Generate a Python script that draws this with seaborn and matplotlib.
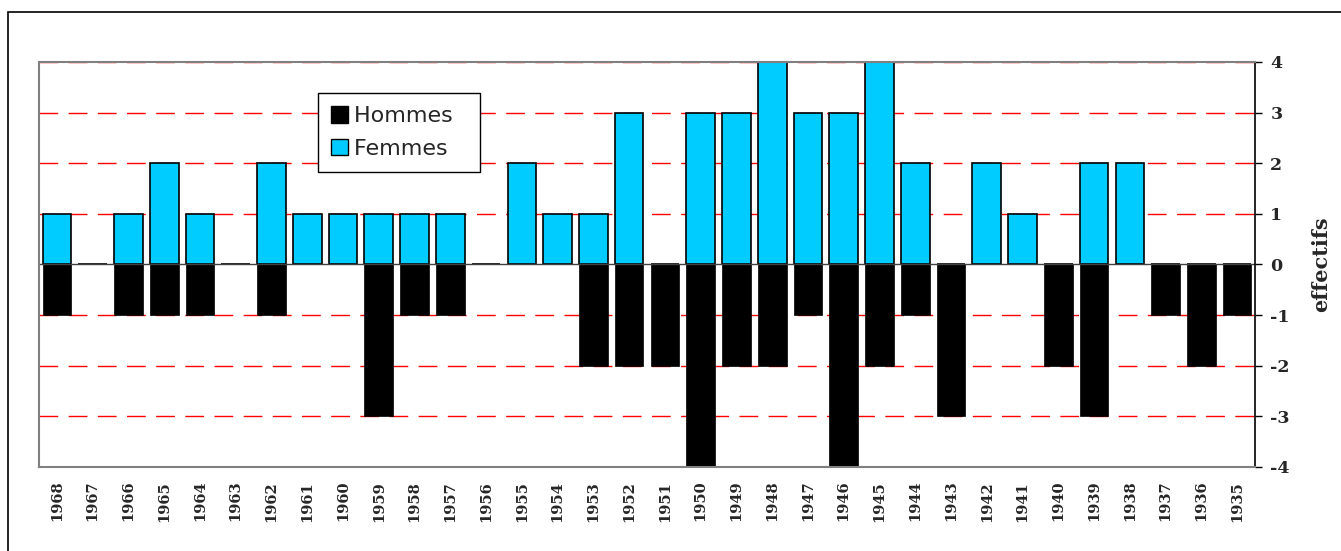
import matplotlib
matplotlib.use("Agg")
import matplotlib.pyplot as plt
import pandas as pd
import seaborn as sns
from matplotlib.patches import Patch, Rectangle

years = [str(y) for y in range(1968, 1934, -1)]
femmes = [1, 0, 1, 2, 1, 0, 2, 1, 1, 1, 1, 1, 0, 2, 1, 1, 3, 0,
          3, 3, 4, 3, 3, 4, 2, 0, 2, 1, 0, 2, 2, 0, 0, 0]
hommes = [-1, 0, -1, -1, -1, 0, -1, 0, 0, -3, -1, -1, 0, 0, 0, -2, -2, -2,
          -4, -2, -2, -1, -4, -2, -1, -3, 0, 0, -2, -3, 0, -1, -2, -1]

CYAN = "#00CCFF"

df = pd.DataFrame({"annee": years, "Femmes": femmes, "Hommes": hommes})

sns.set_style("white")
plt.rcParams["axes.unicode_minus"] = False
fig = plt.figure(figsize=(13.41, 5.51), dpi=100)
ax = fig.add_axes([0.0291, 0.1525, 0.9068, 0.735])

# dashed red grid lines behind the bars
for v in range(-4, 5):
    if v == 0:
        continue
    ax.axhline(v, color="red", lw=1, dashes=(13.5, 7.5), zorder=0)

sns.barplot(data=df, x="annee", y="Femmes", order=years, color=CYAN,
            edgecolor="black", linewidth=1.2, width=0.8, saturation=1, ax=ax)
sns.barplot(data=df, x="annee", y="Hommes", order=years, color="black",
            edgecolor="black", linewidth=0.5, width=0.8, saturation=1, ax=ax)
ax.axhline(0, color="#404040", lw=1, zorder=1)

ax.set_xlim(-0.5, len(years) - 0.5)
ax.set_ylim(-4, 4)
ax.set_yticks(range(-4, 5))
ax.yaxis.tick_right()
ax.yaxis.set_label_position("right")
ax.set_xlabel("")
ax.set_ylabel("effectifs", fontsize=15, fontweight="bold", family="DejaVu Serif",
              labelpad=15)

for lab in ax.get_yticklabels():
    lab.set_family("DejaVu Serif")
    lab.set_fontweight("bold")
    lab.set_fontsize(12.5)
for lab in ax.get_xticklabels():
    lab.set_family("DejaVu Serif")
    lab.set_fontweight("bold")
    lab.set_fontsize(10.5)
    lab.set_rotation(90)

ax.tick_params(axis="y", direction="out", length=5, width=1, color="black", pad=6,
               right=True, left=False)
ax.tick_params(axis="x", length=0, pad=10)

for side in ["top", "left", "bottom"]:
    ax.spines[side].set_color("#808080")
    ax.spines[side].set_linewidth(1.5)
ax.spines["right"].set_color("black")
ax.spines["right"].set_linewidth(1.2)

handles = [Patch(facecolor="black", edgecolor="black", label="Hommes"),
           Patch(facecolor=CYAN, edgecolor="black", label="Femmes")]
leg = ax.legend(handles=handles, loc="upper left", bbox_to_anchor=(0.2294, 0.9235),
                borderaxespad=0, fontsize=16, frameon=True, fancybox=False,
                shadow=False, handlelength=0.75, handleheight=0.75,
                handletextpad=0.25, borderpad=0.6, labelspacing=0.55,
                framealpha=1)
leg.get_frame().set_edgecolor("black")
leg.get_frame().set_linewidth(1)
# a bit of extra room on the right side of the box, as in the original
leg._legend_box.align = "left"
for t in leg.get_texts():
    t.set_text(t.get_text() + "  ")

# outer chart frame
fig.patches.append(Rectangle((8 / 1341, -0.05), 1.1, 1 - 12 / 551 + 0.05,
                             transform=fig.transFigure, fill=False,
                             edgecolor="black", lw=1.2, figure=fig))

fig.savefig("out.png", dpi=100)
